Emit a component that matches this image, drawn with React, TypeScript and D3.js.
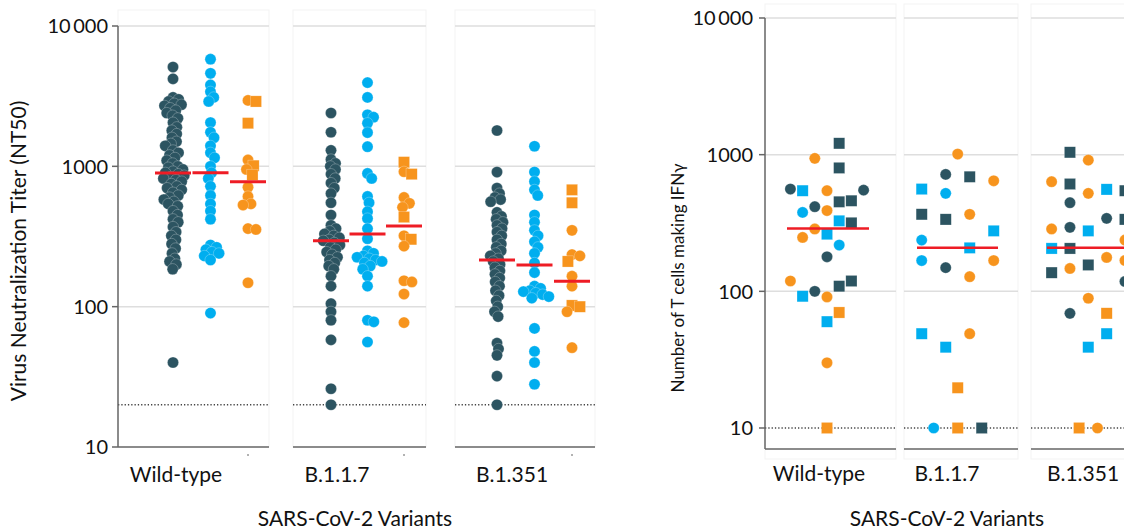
import React from 'react';
import * as d3 from 'd3';

// ---- left chart: virus neutralization titers (NT50) ----
const variants = ['Wild-type', 'B.1.1.7', 'B.1.351'];

const ntDarkWT = [5100, 4200, 3100, 3000, 2900, 2800, 2750, 2700, 2600, 2500, 2400, 2300, 2200, 2050, 1900, 1800, 1700, 1600, 1500, 1450, 1400, 1300, 1250, 1200, 1150, 1100, 1050, 1000, 980, 950, 920, 900, 880, 860, 840, 820, 800, 780, 750, 720, 700, 680, 650, 620, 600, 580, 560, 540, 520, 480, 450, 420, 400, 370, 340, 320, 300, 280, 260, 240, 220, 210, 200, 185, 40];
const ntBlueWT = [5800, 4600, 3800, 3400, 3100, 2900, 2050, 1750, 1600, 1400, 1250, 1150, 1000, 900, 820, 720, 620, 540, 480, 420, 275, 265, 255, 245, 240, 230, 215, 90];
const ntOrangeWT = [
  { v: 2950, s: 'circle' }, { v: 2900, s: 'square' }, { v: 2030, s: 'square' }, { v: 1110, s: 'circle' },
  { v: 1010, s: 'square' }, { v: 950, s: 'circle' }, { v: 870, s: 'square' }, { v: 710, s: 'circle' },
  { v: 610, s: 'circle' }, { v: 540, s: 'circle' }, { v: 530, s: 'circle' }, { v: 360, s: 'circle' },
  { v: 355, s: 'circle' }, { v: 148, s: 'circle' },
];

const ntDarkB117 = [2400, 1750, 1300, 1120, 1050, 1000, 950, 880, 820, 760, 700, 640, 550, 450, 380, 360, 345, 330, 320, 310, 300, 295, 285, 275, 265, 255, 245, 235, 225, 215, 205, 195, 185, 165, 140, 105, 92, 80, 58, 26, 20];
const ntBlueB117 = [3950, 3100, 2330, 2240, 2030, 1740, 1380, 890, 820, 610, 550, 475, 425, 360, 305, 250, 240, 230, 225, 220, 215, 210, 205, 195, 185, 165, 140, 80, 78, 56];
const ntOrangeB117 = [
  { v: 1070, s: 'square' }, { v: 915, s: 'circle' }, { v: 880, s: 'square' }, { v: 600, s: 'circle' },
  { v: 545, s: 'circle' }, { v: 510, s: 'circle' }, { v: 435, s: 'square' }, { v: 320, s: 'circle' },
  { v: 302, s: 'square' }, { v: 270, s: 'circle' }, { v: 153, s: 'circle' }, { v: 150, s: 'circle' },
  { v: 123, s: 'circle' }, { v: 77, s: 'circle' },
];

const ntDarkB1351 = [1800, 910, 700, 640, 600, 580, 560, 470, 440, 420, 400, 380, 360, 340, 320, 300, 280, 265, 250, 240, 230, 220, 210, 200, 190, 180, 170, 160, 150, 140, 130, 120, 110, 100, 92, 85, 55, 50, 45, 32, 20];
const ntBlueB1351 = [1390, 910, 780, 680, 620, 450, 400, 350, 320, 290, 265, 240, 205, 175, 140, 135, 130, 128, 125, 122, 118, 115, 70, 48, 40, 28];
const ntOrangeB1351 = [
  { v: 680, s: 'square' }, { v: 550, s: 'square' }, { v: 350, s: 'circle' }, { v: 235, s: 'circle' },
  { v: 230, s: 'circle' }, { v: 210, s: 'square' }, { v: 165, s: 'circle' }, { v: 140, s: 'circle' },
  { v: 102, s: 'square' }, { v: 100, s: 'square' }, { v: 92, s: 'circle' }, { v: 51, s: 'circle' },
];

const ntMedians = [[898, 900, 775], [295, 330, 376], [215, 198, 152]];
const ntTicks = [10, 100, 1000, 10000];
const ntLimit = 20;

// ---- right chart: T cells making IFNγ ----
// donor = column slot within a variant, grp = cohort colour
const tcWT = [
  { v: 1210, donor: 1, grp: 'dark', s: 'square' }, { v: 940, donor: -1, grp: 'orange', s: 'circle' },
  { v: 800, donor: 1, grp: 'dark', s: 'square' }, { v: 560, donor: -3, grp: 'dark', s: 'circle' },
  { v: 545, donor: -2, grp: 'blue', s: 'square' }, { v: 545, donor: 0, grp: 'orange', s: 'circle' },
  { v: 550, donor: 3, grp: 'dark', s: 'circle' }, { v: 452, donor: 1, grp: 'dark', s: 'square' },
  { v: 460, donor: 2, grp: 'dark', s: 'square' }, { v: 416, donor: -1, grp: 'dark', s: 'circle' },
  { v: 378, donor: -2, grp: 'blue', s: 'circle' }, { v: 390, donor: 0, grp: 'orange', s: 'circle' },
  { v: 328, donor: 1, grp: 'blue', s: 'square' }, { v: 317, donor: 2, grp: 'dark', s: 'square' },
  { v: 286, donor: -1, grp: 'orange', s: 'circle' }, { v: 262, donor: 0, grp: 'blue', s: 'square' },
  { v: 248, donor: -2, grp: 'orange', s: 'circle' }, { v: 218, donor: 1, grp: 'blue', s: 'circle' },
  { v: 179, donor: 0, grp: 'dark', s: 'circle' }, { v: 119, donor: -3, grp: 'orange', s: 'circle' },
  { v: 119, donor: 2, grp: 'dark', s: 'square' }, { v: 109, donor: 1, grp: 'dark', s: 'square' },
  { v: 100, donor: -1, grp: 'dark', s: 'circle' }, { v: 92, donor: -2, grp: 'blue', s: 'square' },
  { v: 91, donor: 0, grp: 'orange', s: 'circle' }, { v: 70, donor: 1, grp: 'orange', s: 'square' },
  { v: 60, donor: 0, grp: 'blue', s: 'square' }, { v: 30, donor: 0, grp: 'orange', s: 'circle' },
  { v: 10, donor: 0, grp: 'orange', s: 'square' },
];
const tcB117 = [
  { v: 1010, donor: 0, grp: 'orange', s: 'circle' }, { v: 717, donor: -1, grp: 'dark', s: 'circle' },
  { v: 689, donor: 1, grp: 'dark', s: 'square' }, { v: 644, donor: 3, grp: 'orange', s: 'circle' },
  { v: 560, donor: -3, grp: 'blue', s: 'square' }, { v: 521, donor: -1, grp: 'blue', s: 'circle' },
  { v: 366, donor: -3, grp: 'dark', s: 'square' }, { v: 366, donor: 1, grp: 'orange', s: 'circle' },
  { v: 336, donor: -1, grp: 'dark', s: 'square' }, { v: 277, donor: 3, grp: 'blue', s: 'square' },
  { v: 237, donor: -3, grp: 'blue', s: 'circle' }, { v: 208, donor: 1, grp: 'blue', s: 'square' },
  { v: 168, donor: -3, grp: 'blue', s: 'circle' }, { v: 149, donor: -1, grp: 'dark', s: 'circle' },
  { v: 168, donor: 3, grp: 'orange', s: 'circle' }, { v: 128, donor: 1, grp: 'orange', s: 'circle' },
  { v: 49, donor: -3, grp: 'blue', s: 'square' }, { v: 39, donor: -1, grp: 'blue', s: 'square' },
  { v: 49, donor: 1, grp: 'orange', s: 'circle' }, { v: 19.7, donor: 0, grp: 'orange', s: 'square' },
  { v: 10, donor: -2, grp: 'blue', s: 'circle' }, { v: 10, donor: 0, grp: 'orange', s: 'square' },
  { v: 10, donor: 2, grp: 'dark', s: 'square' },
];
const tcB1351 = [
  { v: 1040, donor: -2, grp: 'dark', s: 'square' }, { v: 912, donor: 0, grp: 'orange', s: 'circle' },
  { v: 634, donor: -4, grp: 'orange', s: 'circle' }, { v: 610, donor: -2, grp: 'dark', s: 'square' },
  { v: 521, donor: 0, grp: 'orange', s: 'circle' }, { v: 557, donor: 2, grp: 'blue', s: 'square' },
  { v: 545, donor: 4, grp: 'dark', s: 'square' }, { v: 445, donor: -2, grp: 'dark', s: 'circle' },
  { v: 342, donor: 2, grp: 'dark', s: 'circle' }, { v: 336, donor: 4, grp: 'dark', s: 'square' },
  { v: 286, donor: -4, grp: 'orange', s: 'circle' }, { v: 294, donor: -2, grp: 'dark', s: 'circle' },
  { v: 277, donor: 0, grp: 'blue', s: 'square' }, { v: 237, donor: 4, grp: 'orange', s: 'circle' },
  { v: 206, donor: -4, grp: 'blue', s: 'square' }, { v: 206, donor: -2, grp: 'dark', s: 'square' },
  { v: 177, donor: 2, grp: 'orange', s: 'circle' }, { v: 168, donor: 4, grp: 'orange', s: 'circle' },
  { v: 137, donor: -4, grp: 'dark', s: 'square' }, { v: 147, donor: -2, grp: 'orange', s: 'circle' },
  { v: 156, donor: 0, grp: 'dark', s: 'square' }, { v: 118, donor: 4, grp: 'dark', s: 'circle' },
  { v: 89, donor: 0, grp: 'orange', s: 'circle' }, { v: 69, donor: -2, grp: 'dark', s: 'circle' },
  { v: 69, donor: 2, grp: 'orange', s: 'square' }, { v: 49, donor: 2, grp: 'blue', s: 'square' },
  { v: 39, donor: 0, grp: 'blue', s: 'square' }, { v: 10, donor: -1, grp: 'orange', s: 'square' },
  { v: 10, donor: 1, grp: 'orange', s: 'circle' },
];
const tcMedians = [288, 208, 208];
const tcTicks = [10, 100, 1000, 10000];
const tcLimit = 10;

const colors = { dark: '#2c5461', blue: '#00aeef', orange: '#f7941d' };
const font = 'Lato, "Open Sans", sans-serif';

// seaborn-like swarm: nudge points sideways until they no longer overlap
function swarm(items, y, cx, gap) {
  const pts = items.map((d) => ({ ...d, py: y(d.v), dx: 0 }));
  const order = [...pts].sort((a, b) => a.py - b.py);
  const placed = [];
  for (const p of order) {
    const near = placed.filter((q) => Math.abs(q.py - p.py) < gap);
    const cands = [0];
    near.forEach((q) => {
      const w = Math.sqrt(gap * gap - (q.py - p.py) ** 2);
      cands.push(q.dx + w, q.dx - w);
    });
    cands.sort((a, b) => Math.abs(a) - Math.abs(b));
    for (const c of cands) {
      if (near.every((q) => (q.dx - c) ** 2 + (q.py - p.py) ** 2 >= gap * gap - 0.01)) {
        p.dx = c;
        break;
      }
    }
    placed.push(p);
  }
  return pts.map((p) => ({ ...p, px: cx + p.dx }));
}

const Marker = ({ x, y, s, fill, r }) =>
  s === 'square' ? (
    <rect x={x - r} y={y - r} width={2 * r} height={2 * r} fill={fill} stroke="#fff" strokeOpacity={0.5} strokeWidth={0.5} />
  ) : (
    <circle cx={x} cy={y} r={r} fill={fill} stroke="#fff" strokeOpacity={0.5} strokeWidth={0.5} />
  );

const App = () => {
  // left chart geometry
  const yNT = d3.scaleLog().domain([10, 10000]).range([447, 26]);
  const ntPanels = [
    { x0: 118, x1: 269, c0: 173, c2: 248, lx: 176 },
    { x0: 293, x1: 426, c0: 331, c2: 404, lx: 337 },
    { x0: 455, x1: 595, c0: 497, c2: 572, lx: 512 },
  ];
  const ntGroups = [
    [ntDarkWT, ntBlueWT, ntOrangeWT],
    [ntDarkB117, ntBlueB117, ntOrangeB117],
    [ntDarkB1351, ntBlueB1351, ntOrangeB1351],
  ];
  const grpKeys = ['dark', 'blue', 'orange'];
  const gaps = { dark: 6, blue: 6.5, orange: 8 };

  // right chart geometry
  const yTC = d3.scaleLog().domain([10, 10000]).range([428, 18]);
  const tcBottom = 449;
  const tcPanels = [
    { x0: 765, x1: 896, c: 827, u: 12.2, lx: 819, m0: 787, m1: 869 },
    { x0: 904, x1: 1018, c: 957.7, u: 12, lx: 947, m0: 917, m1: 998 },
    { x0: 1031, x1: 1140, c: 1088.3, u: 9.17, lx: 1083, m0: 1047, m1: 1140 },
  ];
  const tcData = [tcWT, tcB117, tcB1351];

  const fmt = (t) => (t === 10000 ? '10\u2009000' : String(t));

  return (
    <svg width={1124} height={531} style={{ position: 'absolute', left: 0, top: 0, background: '#fff' }}>
      {/* ----- left chart ----- */}
      {ntPanels.map((p, i) => (
        <g key={'ntp' + i}>
          <rect x={p.x0} y={10} width={p.x1 - p.x0} height={447 - 10} fill="none" stroke="#f3f3f3" />
          {ntTicks.slice(1).map((t) => (
            <line key={t} x1={p.x0} x2={p.x1} y1={yNT(t)} y2={yNT(t)} stroke="#dedede" strokeWidth={1.5} />
          ))}
          <line x1={p.x0} x2={p.x1} y1={yNT(ntLimit)} y2={yNT(ntLimit)} stroke="#444" strokeWidth={1.3} strokeDasharray="1.3,2" />
          <line x1={p.x0} x2={p.x1} y1={447} y2={447} stroke="#666" strokeWidth={1.5} />
          <line x1={p.c2} x2={p.c2} y1={454} y2={456} stroke="#666" strokeWidth={1} />
          <text x={p.lx} y={482} textAnchor="middle" fontFamily={font} fontSize={21} fill="#111">
            {variants[i]}
          </text>
        </g>
      ))}
      <line x1={118} x2={118} y1={26} y2={447} stroke="#666" strokeWidth={1.5} />
      {ntTicks.map((t) => (
        <g key={'ntt' + t}>
          <line x1={112} x2={118} y1={yNT(t)} y2={yNT(t)} stroke="#666" strokeWidth={1.5} />
          <text x={108} y={yNT(t)} dy="0.36em" textAnchor="end" fontFamily={font} fontSize={20} fill="#111">
            {fmt(t)}
          </text>
        </g>
      ))}
      <text transform="translate(26,251) rotate(-90)" textAnchor="middle" fontFamily={font} fontSize={21} fill="#111">
        Virus Neutralization Titer (NT50)
      </text>
      <text x={355} y={526} textAnchor="middle" fontFamily={font} fontSize={21} fill="#111">
        SARS-CoV-2 Variants
      </text>
      {ntPanels.map((p, i) => {
        const xg = d3.scalePoint().domain(grpKeys).range([p.c0, p.c2]);
        return (
          <g key={'ntd' + i}>
            {ntGroups[i].map((vals, j) => {
              const key = grpKeys[j];
              const items = vals.map((d) => (typeof d === 'number' ? { v: d, s: 'circle' } : d));
              const pts = swarm(items, yNT, xg(key), gaps[key]);
              return pts.map((d, k) => (
                <Marker key={key + k} x={d.px} y={d.py} s={d.s} r={5.6} fill={colors[key]} />
              ));
            })}
            {grpKeys.map((key, j) => (
              <line key={'m' + key} x1={xg(key) - 18} x2={xg(key) + 18} y1={yNT(ntMedians[i][j])} y2={yNT(ntMedians[i][j])} stroke="#ee1c25" strokeWidth={3} />
            ))}
          </g>
        );
      })}

      {/* ----- right chart ----- */}
      {tcPanels.map((p, i) => (
        <g key={'tcp' + i}>
          <rect x={p.x0} y={4} width={p.x1 - p.x0} height={tcBottom + 10 - 4} fill="none" stroke="#f3f3f3" />
          {tcTicks.slice(1).map((t) => (
            <line key={t} x1={p.x0} x2={p.x1} y1={yTC(t)} y2={yTC(t)} stroke="#dedede" strokeWidth={1.5} />
          ))}
          <line x1={p.x0} x2={p.x1} y1={yTC(tcLimit)} y2={yTC(tcLimit)} stroke="#444" strokeWidth={1.3} strokeDasharray="1.3,2" />
          <line x1={p.x0} x2={p.x1} y1={tcBottom} y2={tcBottom} stroke="#666" strokeWidth={1.5} />
          <text x={p.lx} y={481} textAnchor="middle" fontFamily={font} fontSize={21} fill="#111">
            {variants[i]}
          </text>
        </g>
      ))}
      <line x1={765} x2={765} y1={18} y2={tcBottom} stroke="#666" strokeWidth={1.5} />
      {tcTicks.map((t) => (
        <g key={'tct' + t}>
          <line x1={759} x2={765} y1={yTC(t)} y2={yTC(t)} stroke="#666" strokeWidth={1.5} />
          <text x={753} y={yTC(t)} dy="0.36em" textAnchor="end" fontFamily={font} fontSize={20} fill="#111">
            {fmt(t)}
          </text>
        </g>
      ))}
      <text transform="translate(684,278) rotate(-90)" textAnchor="middle" fontFamily={font} fontSize={17} fill="#111">
        Number of T cells making IFNγ
      </text>
      <text x={947} y={526} textAnchor="middle" fontFamily={font} fontSize={21} fill="#111">
        SARS-CoV-2 Variants
      </text>
      {tcPanels.map((p, i) => {
        const xd = d3.scaleLinear().domain([-4, 4]).range([p.c - 4 * p.u, p.c + 4 * p.u]);
        return (
          <g key={'tcd' + i}>
            {tcData[i].map((d, k) => (
              <Marker key={k} x={xd(d.donor)} y={yTC(d.v)} s={d.s} r={5.6} fill={colors[d.grp]} />
            ))}
            <line x1={p.m0} x2={p.m1} y1={yTC(tcMedians[i])} y2={yTC(tcMedians[i])} stroke="#ee1c25" strokeWidth={2.5} />
          </g>
        );
      })}
    </svg>
  );
};

export default App;
